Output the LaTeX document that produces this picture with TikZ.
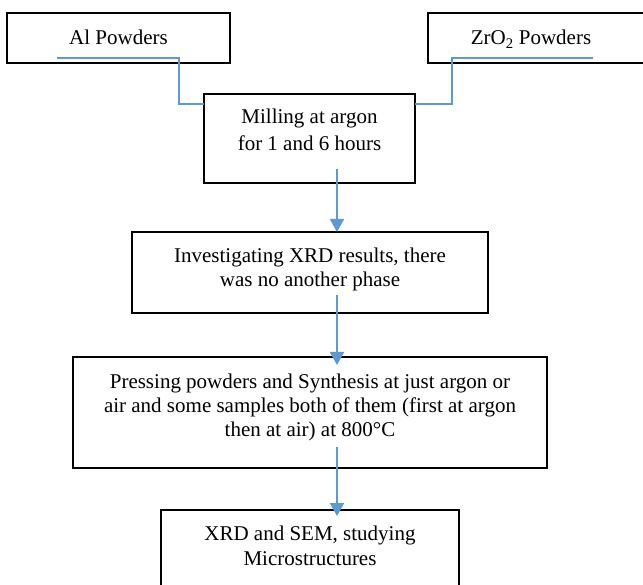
\documentclass[tikz,border=0pt]{standalone}
\usepackage{fontspec}
\setmainfont{Liberation Serif}
\usetikzlibrary{arrows.meta,calc}
\definecolor{conn}{RGB}{91,155,213}
\begin{document}
\begin{tikzpicture}[x=1pt,y=-1pt,
  box/.style={draw=black,line width=2.2pt,inner sep=0pt,outer sep=0pt,rectangle},
  txt/.style={inner sep=0pt,outer sep=0pt,align=center},
  elbow/.style={draw=conn,line width=1.1pt},
  arr/.style={draw=conn,line width=2pt,-{Triangle[length=13pt,width=14pt]}}]
\useasboundingbox (0,0) rectangle (643,585);
\clip (0,0) rectangle (643,585);
\fill[white] (0,0) rectangle (643,585);
% boxes
\node[box,minimum width=223pt,minimum height=50pt] (al) at (118.5,38) {};
\node[box,minimum width=232pt,minimum height=50pt] (zr) at (544,38) {};
\node[box,minimum width=211pt,minimum height=89pt] (mill) at (309.5,138.5) {};
\node[box,minimum width=356pt,minimum height=81pt] (xrd) at (310,272.5) {};
\node[box,minimum width=474pt,minimum height=111pt] (press) at (310,412.5) {};
\node[box,minimum width=298pt,minimum height=100pt] (sem) at (310,560) {};
% texts
\node[txt,anchor=base,font=\fontsize{21}{24}\selectfont] (alT) at (118.5,45) {Al Powders};
\node[txt,anchor=base,font=\fontsize{21}{24}\selectfont] (zrT) at (531,45) {ZrO\textsubscript{2} Powders};
\node[txt,anchor=north,font=\fontsize{21}{27}\selectfont] (millT) at (309.5,105.1) {\strut Milling at argon\\for 1 and 6 hours};
\node[txt,anchor=north,font=\fontsize{21}{24}\selectfont] (xrdT) at (310,246.2) {\strut Investigating XRD results, there\\was no another phase};
\node[txt,anchor=north,font=\fontsize{21}{24.3}\selectfont] (pressT) at (310,371) {\strut Pressing powders and Synthesis at just argon or\\air and some samples both of them (first at argon\\then at air) at 800°C};
\node[txt,anchor=north,font=\fontsize{21}{25}\selectfont] (semT) at (310,522.5) {\strut XRD and SEM, studying\\Microstructures};
% connectors
\coordinate (alS) at (57,58);
\coordinate (zrS) at (593,58);
\coordinate (millL) at ($(mill.north west)+(0,10)$);
\coordinate (millR) at ($(mill.north east)+(0,10)$);
\draw[elbow] (alS) -- (179,58) |- (millL);
\draw[elbow] (zrS) -- (452,58) |- (millR);
\draw[arr] ($(mill.south)+(27.5,-14)$) -- ($(xrd.north)+(27,0)$);
\draw[arr] ($(xrd.south)+(27,-18)$) -- ($(press.north)+(27,8)$);
\draw[arr] ($(press.south)+(27,-21)$) -- ($(sem.north)+(27,6)$);
\end{tikzpicture}
\end{document}
